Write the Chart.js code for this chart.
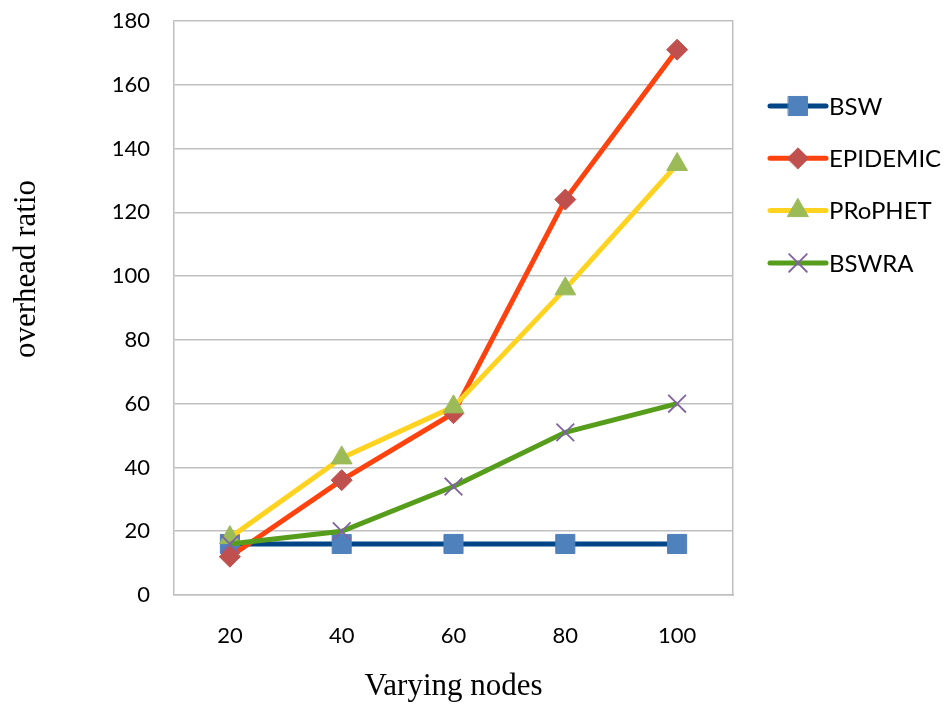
<!DOCTYPE html>
<html>
<head>
<meta charset="utf-8">
<style>
  html, body { margin: 0; padding: 0; background: #fff; }
  #wrap { width: 952px; height: 705px; }
</style>
<script src="https://cdn.jsdelivr.net/npm/chart.js@4.4.0/dist/chart.umd.min.js"></script>
</head>
<body>
<div id="wrap"><canvas id="overhead-chart" width="952" height="705"></canvas></div>
<script>
// --data
var nodes = ['20', '40', '60', '80', '100'];
var bsw = [16, 16, 16, 16, 16];
var epidemic = [12, 36, 57, 124, 171];
var prophet = [18, 43, 59, 96, 135];
var bswra = [16, 20, 34, 51, 60];
var seriesNames = ['BSW', 'EPIDEMIC', 'PRoPHET', 'BSWRA'];
var yTitle = 'overhead ratio';
var xTitle = 'Varying nodes';

var sansFamily = 'Lato, "Liberation Sans", sans-serif';
var serifFamily = '"Liberation Serif", "DejaVu Serif", serif';
var tickFont = {family: sansFamily, size: 22};
var gridGrey = '#BFBFBF';

function series(label, data, line, marker, style, radius, order) {
  return {
    label: label,
    data: data,
    borderColor: line,
    borderWidth: 5,
    backgroundColor: marker,
    pointStyle: style,
    pointRadius: radius,
    pointHoverRadius: radius,
    pointBackgroundColor: marker,
    pointBorderColor: marker,
    pointBorderWidth: style === 'crossRot' ? 1.8 : 1,
    tension: 0,
    order: order
  };
}

// --legend at the right (line with marker) and the y title, sitting a bit above centre
var sideLegend = {
  id: 'sideLegend',
  afterDraw: function(chart) {
    var ctx = chart.ctx;
    var area = chart.chartArea;
    var x0 = area.right + 37;
    var x1 = x0 + 56;
    chart.data.datasets.forEach(function(ds, i) {
      var y = area.top + 85 + i * 52.3;
      ctx.save();
      ctx.strokeStyle = ds.borderColor;
      ctx.lineWidth = 5;
      ctx.lineCap = 'round';
      ctx.beginPath();
      ctx.moveTo(x0, y);
      ctx.lineTo(x1, y);
      ctx.stroke();
      ctx.fillStyle = ds.pointBackgroundColor;
      ctx.strokeStyle = ds.pointBorderColor;
      ctx.lineWidth = ds.pointBorderWidth;
      Chart.helpers.drawPoint(ctx, {pointStyle: ds.pointStyle, radius: ds.pointRadius, rotation: 0, borderWidth: ds.pointBorderWidth}, (x0 + x1) / 2, y);
      ctx.fillStyle = '#000';
      ctx.font = '24px ' + sansFamily;
      ctx.textBaseline = 'middle';
      ctx.textAlign = 'left';
      ctx.fillText(ds.label, x1 + 3, y + 1);
      ctx.restore();
    });

    ctx.save();
    ctx.translate(35, 269);
    ctx.rotate(-Math.PI / 2);
    ctx.fillStyle = '#000';
    ctx.font = '31px ' + serifFamily;
    ctx.textAlign = 'center';
    ctx.textBaseline = 'alphabetic';
    ctx.fillText(yTitle, 0, 0);
    ctx.restore();
  }
};

new Chart(document.getElementById('overhead-chart'), {
  type: 'line',
  data: {
    labels: nodes,
    datasets: [
      series(seriesNames[0], bsw, '#004586', '#4F81BD', 'rect', 13.5, 4),
      series(seriesNames[1], epidemic, '#FF420E', '#C0504D', 'rectRot', 10.5, 3),
      series(seriesNames[2], prophet, '#FFD320', '#9BBB59', 'triangle', 12, 2),
      series(seriesNames[3], bswra, '#579D1C', '#8064A2', 'crossRot', 12.5, 1)
    ]
  },
  options: {
    responsive: false,
    animation: false,
    layout: {padding: {left: 0, top: 21, right: 219, bottom: 0}},
    plugins: {
      legend: {display: false},
      tooltip: {enabled: false}
    },
    scales: {
      x: {
        offset: true,
        grid: {display: false},
        border: {display: true, color: gridGrey, width: 1.5},
        ticks: {color: '#000', font: tickFont, padding: 20},
        title: {display: true, text: xTitle, color: '#000', font: {family: serifFamily, size: 31}, padding: {top: 10, bottom: 0}},
        afterFit: function(scale) { scale.height = 110; }
      },
      y: {
        min: 0,
        max: 180,
        ticks: {stepSize: 20, color: '#000', font: tickFont, padding: 24},
        grid: {color: gridGrey, lineWidth: 1.5, drawTicks: false},
        border: {display: true, color: gridGrey, width: 1.5},
        afterFit: function(scale) {
          scale.width = 174;
          scale.paddingTop = 0;
          scale.paddingBottom = 0;
        }
      },
      yRight: {
        position: 'right',
        min: 0,
        max: 180,
        ticks: {display: false},
        grid: {display: false, drawTicks: false},
        border: {display: true, color: gridGrey, width: 1.5},
        afterFit: function(scale) { scale.width = 0; }
      }
    }
  },
  plugins: [sideLegend]
});
</script>
</body>
</html>
